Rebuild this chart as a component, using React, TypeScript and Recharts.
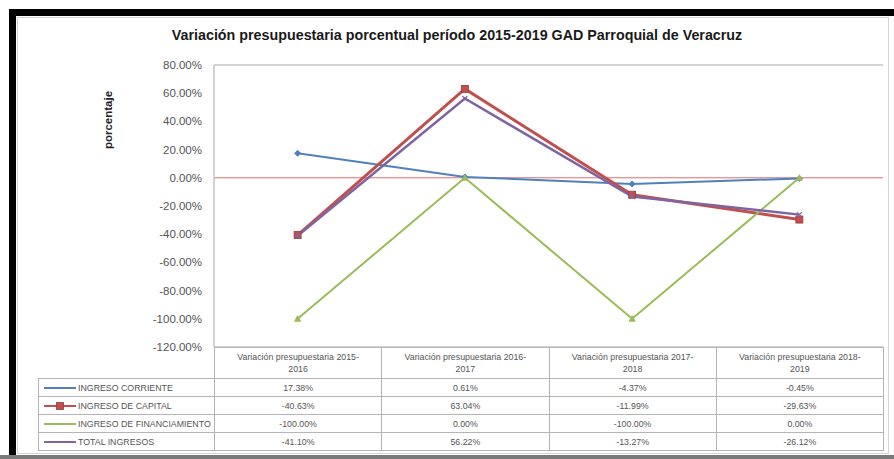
import React from 'react';
import { LineChart, Line, XAxis, YAxis, CartesianGrid, ReferenceLine } from 'recharts';

const categories = [
  'Variación presupuestaria 2015-2016',
  'Variación presupuestaria 2016-2017',
  'Variación presupuestaria 2017-2018',
  'Variación presupuestaria 2018-2019',
];
const headerLine1 = [
  'Variación presupuestaria 2015-',
  'Variación presupuestaria 2016-',
  'Variación presupuestaria 2017-',
  'Variación presupuestaria 2018-',
];
const headerLine2 = ['2016', '2017', '2018', '2019'];

const ingresoCorriente = [17.38, 0.61, -4.37, -0.45];
const ingresoCapital = [-40.63, 63.04, -11.99, -29.63];
const ingresoFinanciamiento = [-100.0, 0.0, -100.0, 0.0];
const totalIngresos = [-41.1, 56.22, -13.27, -26.12];

const yTicks = [80, 60, 40, 20, 0, -20, -40, -60, -80, -100, -120];

const seriesNames = ['INGRESO CORRIENTE', 'INGRESO DE CAPITAL', 'INGRESO DE FINANCIAMIENTO', 'TOTAL INGRESOS'];
const seriesKeys = ['corriente', 'capital', 'financiamiento', 'total'];
const seriesColors = ['#4F81BD', '#C0504D', '#9BBB59', '#8064A2'];
const seriesValues = [ingresoCorriente, ingresoCapital, ingresoFinanciamiento, totalIngresos];
const seriesMarkers = ['diamond', 'square', 'triangle', 'x'];

const data = categories.map((c, i) => ({
  cat: c,
  corriente: ingresoCorriente[i],
  capital: ingresoCapital[i],
  financiamiento: ingresoFinanciamiento[i],
  total: totalIngresos[i],
}));

const fmt = (v: number) => v.toFixed(2) + '%';

function markerShape(kind: string, cx: number, cy: number, color: string, key?: any) {
  if (kind === 'diamond') {
    const r = 3;
    return <path key={key} d={`M${cx},${cy - r}L${cx + r},${cy}L${cx},${cy + r}L${cx - r},${cy}Z`} fill={color} stroke={color} />;
  }
  if (kind === 'square') {
    const r = 3.5;
    return <rect key={key} x={cx - r} y={cy - r} width={2 * r} height={2 * r} fill={color} stroke="#9a3a37" strokeWidth={0.8} />;
  }
  if (kind === 'triangle') {
    const r = 3;
    return <path key={key} d={`M${cx},${cy - r}L${cx + r},${cy + r * 0.8}L${cx - r},${cy + r * 0.8}Z`} fill={color} stroke={color} />;
  }
  const r = 2.5;
  return <path key={key} d={`M${cx - r},${cy - r}L${cx + r},${cy + r}M${cx + r},${cy - r}L${cx - r},${cy + r}`} stroke={color} strokeWidth={1.2} fill="none" />;
}

const makeDot = (kind: string, color: string) => (props: any) => {
  const { cx, cy, index } = props;
  if (cx == null || cy == null) return <g key={index} />;
  return <g key={index}>{markerShape(kind, cx, cy, color)}</g>;
};

const PLOT_LEFT = 214;
const PLOT_RIGHT = 883;
const TABLE_LEFT = 38;
const COL_W = (PLOT_RIGHT - PLOT_LEFT) / 4;

const tableFont = '"Liberation Sans", Arial, sans-serif';
const borderC = '#b5b5b5';

export default function App() {
  return (
    <div style={{ position: 'absolute', left: 0, top: 0, width: 894, height: 459, background: '#fff', overflow: 'hidden' }}>
      {/* black frame */}
      <div style={{ position: 'absolute', left: 9, top: 9, width: 885, height: 450, borderTop: '7px solid #000', borderLeft: '7px solid #000', boxSizing: 'border-box' }} />
      {/* chart area outline */}
      <div style={{ position: 'absolute', left: 17, top: 17, width: 872, height: 437, border: '1px solid #d4d4d4', boxSizing: 'border-box' }} />
      <div style={{ position: 'absolute', left: 0, top: 455, width: 894, height: 4, background: '#7a7a7a' }} />

      {/* title */}
      <div style={{ position: 'absolute', left: 0, top: 27, width: 914, textAlign: 'center', fontFamily: tableFont, fontWeight: 'bold', fontSize: 14.3, color: '#1a1a1a', whiteSpace: 'nowrap' }}>
        Variación presupuestaria porcentual período 2015-2019 GAD Parroquial de Veracruz
      </div>

      {/* y axis title */}
      <div style={{ position: 'absolute', left: 108, top: 120, width: 0, height: 0 }}>
        <div style={{ position: 'absolute', transform: 'translate(-50%, -50%) rotate(-90deg)', fontFamily: tableFont, fontWeight: 'bold', fontSize: 11.5, color: '#222', whiteSpace: 'nowrap' }}>
          porcentaje
        </div>
      </div>

      <div style={{ position: 'absolute', left: 0, top: 0 }}>
        <LineChart width={894} height={459} data={data} margin={{ top: 65, right: 11, bottom: 112, left: 0 }}>
          <CartesianGrid vertical={false} stroke="#c4c4c4" strokeWidth={1.5} />
          <XAxis dataKey="cat" hide padding={{ left: COL_W / 2, right: COL_W / 2 }} />
          <YAxis
            yAxisId="left"
            width={PLOT_LEFT}
            domain={[-120, 80]}
            ticks={yTicks}
            interval={0}
            tickFormatter={fmt}
            tickLine={false}
            axisLine={{ stroke: '#c4c4c4', strokeWidth: 1.5 }}
            tickMargin={6}
            tick={{ fontSize: 11.5, fill: '#555', fontFamily: tableFont }}
          />
          <YAxis
            yAxisId="right"
            orientation="right"
            width={0}
            domain={[-120, 80]}
            tick={false}
            tickLine={false}
            axisLine={{ stroke: '#c4c4c4', strokeWidth: 1.5 }}
          />
          <ReferenceLine yAxisId="left" y={0} stroke="#e46b6b" strokeWidth={1} />
          {seriesKeys.map((k, i) => (
            <Line
              key={k}
              yAxisId="left"
              type="linear"
              dataKey={k}
              name={seriesNames[i]}
              stroke={seriesColors[i]}
              strokeWidth={i === 1 ? 3 : i === 3 ? 2.5 : 2}
              dot={makeDot(seriesMarkers[i], seriesColors[i])}
              activeDot={false}
              isAnimationActive={false}
            />
          ))}
        </LineChart>
      </div>

      {/* data table */}
      <table
        style={{
          position: 'absolute',
          left: TABLE_LEFT,
          top: 347,
          width: PLOT_RIGHT - TABLE_LEFT,
          borderCollapse: 'collapse',
          tableLayout: 'fixed',
          fontFamily: tableFont,
          fontSize: 8.8,
          color: '#555',
        }}
      >
        <colgroup>
          <col style={{ width: PLOT_LEFT - TABLE_LEFT }} />
          {categories.map((c) => (
            <col key={c} style={{ width: COL_W }} />
          ))}
        </colgroup>
        <tbody>
          <tr style={{ height: 31 }}>
            <td style={{ border: 'none', borderBottom: `1px solid ${borderC}` }} />
            {categories.map((c, i) => (
              <td key={c} style={{ border: `1px solid ${borderC}`, textAlign: 'center', lineHeight: '12px', padding: 0, verticalAlign: 'middle' }}>
                {headerLine1[i]}
                <br />
                {headerLine2[i]}
              </td>
            ))}
          </tr>
          {seriesNames.map((n, r) => (
            <tr key={n} style={{ height: 18 }}>
              <td style={{ border: `1px solid ${borderC}`, padding: 0, whiteSpace: 'nowrap' }}>
                <div style={{ display: 'flex', alignItems: 'center', height: 17 }}>
                  <svg width={36} height={10} style={{ marginLeft: 3, flex: 'none' }}>
                    <line x1={2} y1={5} x2={34} y2={5} stroke={seriesColors[r]} strokeWidth={2} />
                    {r === 1 ? markerShape(seriesMarkers[r], 18, 5, seriesColors[r]) : null}
                  </svg>
                  <span>{n}</span>
                </div>
              </td>
              {seriesValues[r].map((v, c) => (
                <td key={c} style={{ border: `1px solid ${borderC}`, textAlign: 'center', padding: 0 }}>
                  {fmt(v)}
                </td>
              ))}
            </tr>
          ))}
        </tbody>
      </table>
    </div>
  );
}
